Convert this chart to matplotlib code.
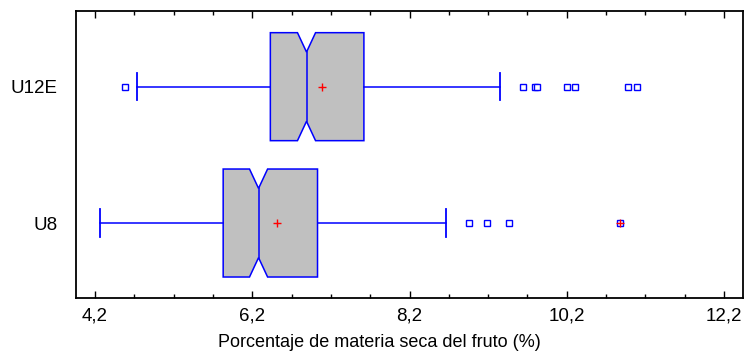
import numpy as np
import matplotlib
matplotlib.use("Agg")
import matplotlib.pyplot as plt
from matplotlib.patches import Polygon
from matplotlib.ticker import FixedLocator

plt.rcParams['font.family'] = ['Liberation Sans Narrow', 'Liberation Sans', 'DejaVu Sans']

# summary values (x = % dry matter)
groups = ["U8", "U12E"]
q1 = [5.83, 6.43]
medians = [6.28, 6.89]
q3 = [7.03, 7.62]
notch_half = [0.115, 0.115]
whisker_lo = [4.26, 4.74]
whisker_hi = [8.67, 9.35]
means = [6.52, 7.09]
outliers = [[8.96, 9.18, 9.47, 10.88],
            [4.58, 9.64, 9.80, 9.82, 10.20, 10.31, 10.98, 11.09]]
far_outliers = [[10.88], []]

major_ticks = [4.2, 6.2, 8.2, 10.2, 12.2]
tick_labels = ["4,2", "6,2", "8,2", "10,2", "12,2"]
xlabel = "Porcentaje de materia seca del fruto (%)"

blue = "#0000ff"
half_h = 0.396
notch_d = 0.142
cap_h = 0.10
fs = 13.5

fig = plt.figure(figsize=(7.44, 3.56), dpi=100)
ax = fig.add_axes([0.1015, 0.1629, 0.8972, 0.8062])

for i, g in enumerate(groups):
    y = i
    top, bot = y + half_h, y - half_h
    lo, hi = medians[i] - notch_half[i], medians[i] + notch_half[i]
    verts = [(q1[i], top), (lo, top), (medians[i], top - notch_d), (hi, top),
             (q3[i], top), (q3[i], bot), (hi, bot), (medians[i], bot + notch_d),
             (lo, bot), (q1[i], bot)]
    ax.add_patch(Polygon(verts, closed=True, facecolor="#c0c0c0",
                         edgecolor=blue, lw=1.1, zorder=2))
    ax.plot([medians[i], medians[i]], [top - notch_d, bot + notch_d],
            color=blue, lw=1.1, zorder=3)
    # whiskers
    ax.plot([whisker_lo[i], q1[i]], [y, y], color=blue, lw=1.1, zorder=2)
    ax.plot([q3[i], whisker_hi[i]], [y, y], color=blue, lw=1.1, zorder=2)
    for w in (whisker_lo[i], whisker_hi[i]):
        ax.plot([w, w], [y - cap_h, y + cap_h], color=blue, lw=1.3, zorder=2)
    ax.plot(outliers[i], [y] * len(outliers[i]), ls="none", marker="s",
            ms=3.8, mfc="white", mec=blue, mew=1.0, zorder=4)
    ax.plot(far_outliers[i], [y] * len(far_outliers[i]), ls="none", marker="+",
            ms=5.5, color="red", mew=1.0, zorder=5)
    ax.plot([means[i]], [y], ls="none", marker="+", ms=5.5, color="red",
            mew=1.0, zorder=5)

ax.set_xlim(3.952, 12.442)
ax.set_ylim(-0.55, 1.555)
ax.set_yticks(range(len(groups)))
ax.set_yticklabels(groups, fontsize=fs)
ax.tick_params(axis="y", length=0, pad=13)

ax.xaxis.set_major_locator(FixedLocator(major_ticks))
ax.xaxis.set_minor_locator(FixedLocator(np.arange(4.2, 12.3, 0.5)))
ax.set_xticklabels(tick_labels, fontsize=fs)
ax.tick_params(axis="x", which="both", direction="in", top=True, width=1.0)
ax.tick_params(axis="x", which="major", length=5, pad=7)
ax.tick_params(axis="x", which="minor", length=3)
ax.set_xlabel(xlabel, fontsize=13)
ax.xaxis.set_label_coords(0.455, -0.125)

for s in ax.spines.values():
    s.set_linewidth(1.3)

fig.savefig("out.png", dpi=100)
